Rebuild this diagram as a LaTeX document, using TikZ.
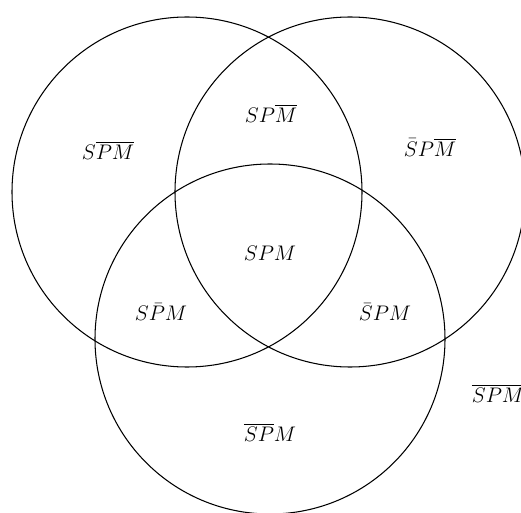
\documentclass[tikz,border=0pt]{standalone}
\usepackage{amsmath,amssymb}
\usepackage{tikz}

\begin{document}
\begin{tikzpicture}[
    x=0.02cm, y=-0.02cm,
    setline/.style={line width=0.6pt},
    region/.style={font=\large, inner sep=0pt}
]

% ==========================================
% 1. Frame (picture is cut at the edges)
% ==========================================
\useasboundingbox (0,0) rectangle (521,513);
\clip (0,0) rectangle (521,513);

% ==========================================
% 2. The three sets S, P, M
% ==========================================
\coordinate (setS) at (187,192);  % left circle
\coordinate (setP) at (350,192);  % right circle
\coordinate (setM) at (270,339);  % bottom circle

\foreach \c in {setS, setP, setM} {
    \draw[setline] (\c) circle[radius=175];
}

% ==========================================
% 3. Region labels
% ==========================================
\node[region] (sOnly)  at (108,150) {$S\overline{PM}$};
\node[region] (pOnly)  at (430,147) {$\bar{S}P\overline{M}$};
\node[region] (sp)     at (271,113) {$SP\overline{M}$};
\node[region] (spm)    at (270,253) {$SPM$};
\node[region] (sm)     at (161,312) {$S\bar{P}M$};
\node[region] (pm)     at (385,312) {$\bar{S}PM$};
\node[region] (mOnly)  at (270,432) {$\overline{SP}M$};
\node[region] (none)   at (498,393) {$\overline{SPM}$};

\end{tikzpicture}
\end{document}
